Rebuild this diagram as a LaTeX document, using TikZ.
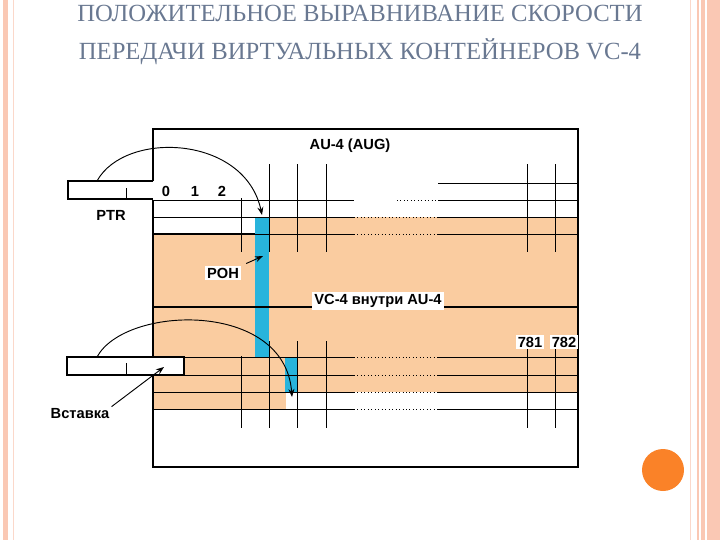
\documentclass[tikz,border=0pt]{standalone}
\usepackage{fontspec}
\setmainfont{Liberation Serif}
\newfontfamily\arialf{Liberation Sans}
\usetikzlibrary{arrows.meta}
\definecolor{peach}{RGB}{250,204,160}
\definecolor{cyanb}{RGB}{40,180,220}
\definecolor{pinkb}{RGB}{250,200,180}
\definecolor{titlec}{RGB}{105,120,145}
\definecolor{orng}{RGB}{250,130,40}
\tikzset{
 lbl/.style={font=\arialf\bfseries\fontsize{11}{13}\selectfont, inner sep=1.5pt},
 wlbl/.style={lbl, fill=white},
 thin line/.style={line width=0.6pt},
 dot line/.style={line width=0.6pt, dotted},
 frame/.style={line width=2pt},
 arr/.style={line width=0.7pt, -{Stealth[length=6pt]}},
 ttl/.style={font=\fontsize{18.5}{22}\selectfont, text=titlec}
}
\begin{document}
\begin{tikzpicture}[x=0.75pt,y=-0.75pt]
\useasboundingbox (0,0) rectangle (720,540);
% decorations
\fill[pinkb] (3,0) rectangle (8,540);
\draw[pinkb!70, line width=0.6pt] (13,0) -- (13,540);
\draw[pinkb!70, line width=0.6pt] (690,0) -- (690,540);
\fill[pinkb] (697,0) rectangle (720,540);
\draw[white, line width=0.8pt] (700,0) -- (700,540);
\draw[white, line width=0.8pt] (706,0) -- (706,540);
\node[circle, fill=orng, minimum size=31.5pt, inner sep=0pt] (dot) at (663,470) {};
% title
\node[ttl] (t1) at (360,13) {ПОЛОЖИТЕЛЬНОЕ ВЫРАВНИВАНИЕ СКОРОСТИ};
\node[ttl] (t2) at (360,52) {ПЕРЕДАЧИ ВИРТУАЛЬНЫХ КОНТЕЙНЕРОВ VC-4};
% fills
\fill[peach] (270,217) rectangle (578,234);
\fill[peach] (153,234) rectangle (578,392);
\fill[peach] (153,392) rectangle (286,409);
\fill[cyanb] (255,217) rectangle (269,357);
\fill[cyanb] (285,357) rectangle (297,392);
% horizontal rows
\foreach \y in {217,234,357,375,392,409}{
  \draw[thin line] (153,\y) -- (354,\y);
  \draw[dot line] (354,\y) -- (438,\y);
  \draw[thin line] (438,\y) -- (578,\y);
}
\draw[thin line] (153,200) -- (354,200);
\draw[dot line] (397,200) -- (438,200);
\draw[thin line] (438,200) -- (578,200);
\draw[thin line] (438,183) -- (578,183);
\draw[line width=1.4pt] (153,234) -- (255,234);
% vertical lines
\foreach \x in {269,297,326,527,555}{
  \draw[thin line] (\x,164) -- (\x,252);
  \draw[thin line] (\x,341) -- (\x,428);
}
\draw[thin line] (241,198) -- (241,252);
\draw[thin line] (241,356) -- (241,428);
% thick middle line
\draw[line width=2pt] (153,307) -- (578,307);
% frame
\draw[frame] (153,181) -- (153,129) -- (578,129) -- (578,467) -- (153,467) -- (153,200);
% PTR box
\draw[frame, fill=white] (153,181) -- (68,181) -- (68,199) -- (153,199);
\draw[thin line] (126,188) -- (126,199);
% lower box
\draw[frame, fill=white] (67,357) rectangle (184,375);
\draw[thin line] (126,363) -- (126,375);
\coordinate (ins) at (164,367);
% labels
\node[lbl] (au) at (350,146) {AU-4 (AUG)};
\node[lbl] (n0) at (166,191) {0};
\node[lbl] (n1) at (195,191) {1};
\node[lbl] (n2) at (222,191) {2};
\node[lbl] (ptr) at (111,215) {PTR};
\node[wlbl] (poh) at (223,273) {POH};
\node[wlbl] (vc) at (378,301) {VC-4 внутри AU-4};
\node[wlbl] (n781) at (530,342) {781};
\node[wlbl] (n782) at (564,342) {782};
\node[lbl] (vst) at (80,414) {Вставка};
% arrows
\coordinate (pa) at (97,181);
\coordinate (pb) at (262,215);
\draw[arr] (pa) .. controls (125,130) and (245,135) .. (pb);
\coordinate (qa) at (97,357);
\coordinate (qb) at (292,397);
\draw[arr] (qa) .. controls (125,305) and (285,300) .. (qb);
\coordinate (pohend) at (263,256);
\draw[arr] (poh.north east) ++(5,-2) -- (pohend);
\draw[arr] (vst.north east) -- (ins);
\end{tikzpicture}
\end{document}
